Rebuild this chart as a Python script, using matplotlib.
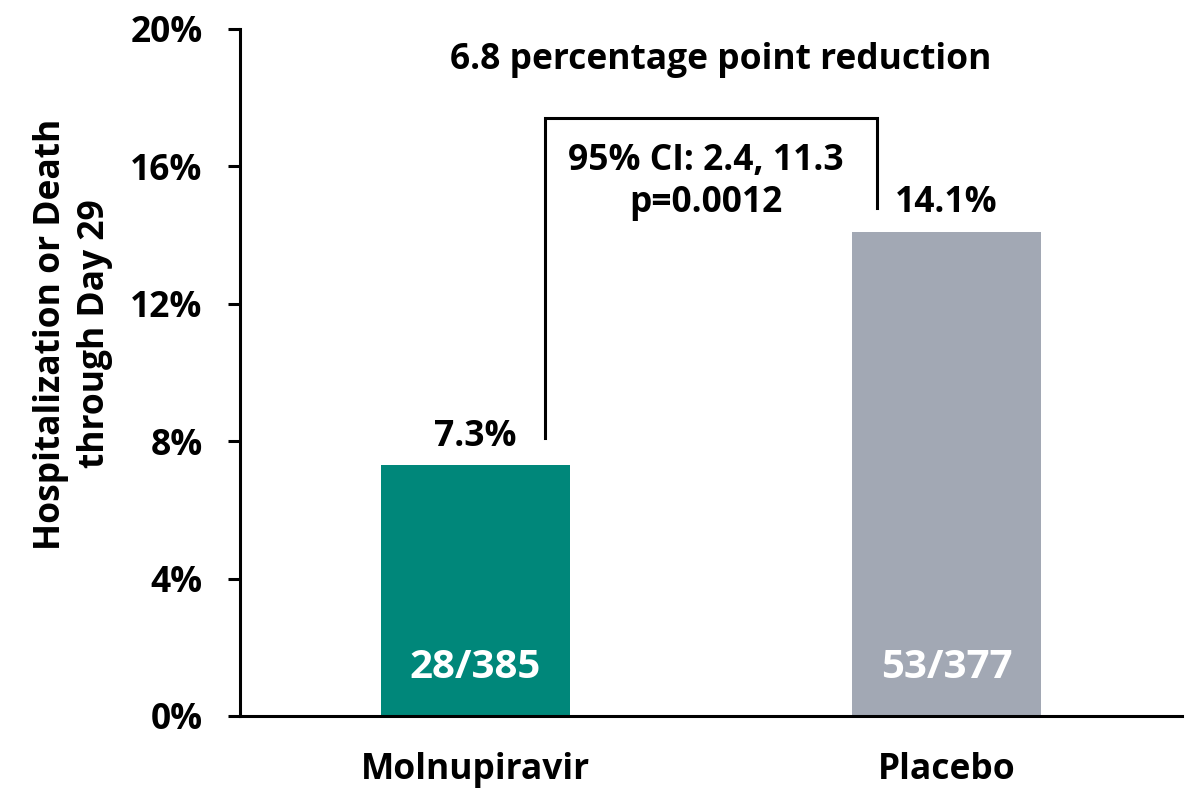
"""Bar chart: hospitalization or death through day 29, molnupiravir vs placebo."""
import matplotlib.pyplot as plt

groups = ["Molnupiravir", "Placebo"]
rates = [7.3, 14.1]
counts = ["28/385", "53/377"]
colors = ["#00877A", "#A2A8B4"]
yticks = [0, 4, 8, 12, 16, 20]

plt.rcParams["font.family"] = ["Open Sans", "DejaVu Sans"]
plt.rcParams["font.weight"] = "bold"
FS = 25.5

fig = plt.figure(figsize=(11.86, 7.90), dpi=100)
ax = fig.add_axes([0.2024, 0.0937, 0.7942, 0.8696])

x = list(range(len(groups)))
ax.bar(x, rates, width=0.4, color=colors)

for xi, r, c in zip(x, rates, counts):
    ax.text(xi, r + 0.3, f"{r}%", ha="center", va="bottom", fontsize=FS,
            fontweight="bold")
    ax.text(xi, 1.4, c, ha="center", va="center", fontsize=29,
            fontweight="bold", color="white")

# bracket between the bars
ax.plot([0.148, 0.148, 0.852, 0.852], [8.1, 17.4, 17.4, 14.8],
        color="black", lw=2.2, solid_joinstyle="miter")
ax.text(0.52, 19.1, "6.8 percentage point reduction", ha="center",
        va="center", fontsize=FS, fontweight="bold")
ax.text(0.49, 15.55, "95% CI: 2.4, 11.3\np=0.0012", ha="center", va="center",
        fontsize=FS, fontweight="bold", linespacing=1.2)

ax.set_xlim(-0.5, 1.5)
ax.set_ylim(0, 20)
ax.set_yticks(yticks)
ax.set_yticklabels([f"{t}%" for t in yticks], fontsize=FS, fontweight="bold")
ax.set_xticks(x)
ax.set_xticklabels(groups, fontsize=FS, fontweight="bold")
ax.tick_params(axis="y", length=9, width=2.2, pad=18)
ax.tick_params(axis="x", length=0, pad=26)
ax.set_ylabel("Hospitalization or Death\nthrough Day 29", fontsize=FS,
              fontweight="bold", linespacing=1.3)
ax.yaxis.set_label_coords(-0.135, 0.556)

for side in ["top", "right"]:
    ax.spines[side].set_visible(False)
for side in ["left", "bottom"]:
    ax.spines[side].set_linewidth(2.2)

plt.savefig("out.png", dpi=100)
plt.close(fig)
